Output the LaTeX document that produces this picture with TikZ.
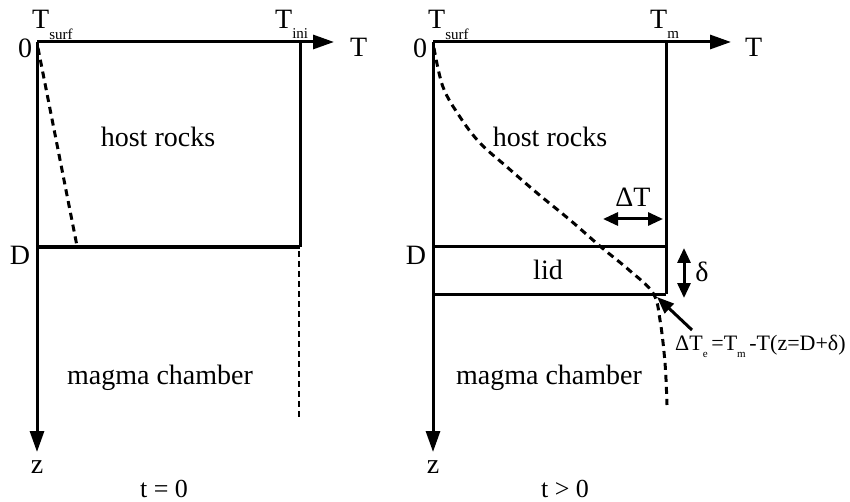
\documentclass[tikz,border=0pt]{standalone}
\usepackage{fontspec}
\setmainfont{Liberation Serif}
\usetikzlibrary{arrows.meta}
\newcommand{\lowsub}[2]{\raisebox{-#1}{\fontsize{15}{15}\selectfont #2}}
\newcommand{\tinysub}[1]{\raisebox{-7pt}{\fontsize{11}{11}\selectfont #1}}
\tikzset{
  axis/.style={line width=3pt,-{Triangle[length=21pt,width=14pt]}},
  boxline/.style={line width=3pt},
  profile/.style={line width=3pt,dash pattern=on 7pt off 5pt},
  thinprofile/.style={line width=2.5pt,dash pattern=on 6pt off 4pt},
  dbl/.style={line width=3pt,{Triangle[length=15pt,width=13pt]}-{Triangle[length=15pt,width=13pt]}},
  pointer/.style={line width=3pt,-{Triangle[length=17pt,width=13pt]}},
  lbl/.style={font=\fontsize{28}{30}\selectfont,inner sep=0pt},
  small/.style={font=\fontsize{22}{24}\selectfont,inner sep=0pt},
  caption/.style={font=\fontsize{26}{28}\selectfont,inner sep=0pt},
}
\begin{document}
\begin{tikzpicture}[x=1pt,y=-1pt]
\useasboundingbox (0,0) rectangle (850,502);
% ---------- left panel ----------
\coordinate (LO) at (37,42);
\coordinate (LTend) at (334,42);
\coordinate (LZend) at (37,452);
\coordinate (LTR) at (300,42);
\coordinate (LDL) at (37,247);
\coordinate (LDR) at (300,247);
\coordinate (LPtop) at (38,48);
\coordinate (LPbot) at (77,246);
\coordinate (LMtop) at (299,251);
\coordinate (LMbot) at (299,417);
\draw[boxline] (LTR) -- (LDR);
\draw[line width=4pt] (LDL) -- (LDR);
\draw[axis] (LO) -- (LTend);
\draw[axis] (LO) -- (LZend);
\draw[profile] (LPtop) -- (LPbot);
\draw[thinprofile] (LMtop) -- (LMbot);
\node[lbl,anchor=base west] (lTs) at (32,29) {T\lowsub{11pt}{surf}};
\node[lbl,anchor=base west] (lTi) at (275,29) {T\lowsub{10pt}{ini}};
\node[lbl,anchor=base west] (lT) at (350,57) {T};
\node[lbl] (l0) at (25,48) {0};
\node[lbl] (lD) at (20,255) {D};
\node[lbl] (lhost) at (158,137) {host rocks};
\node[lbl] (lmagma) at (160,378) {magma chamber};
\node[lbl] (lz) at (37,467) {z};
\node[caption,anchor=base] (lt) at (164,497) {t = 0};
% ---------- right panel ----------
\coordinate (RO) at (433,42);
\coordinate (RTend) at (731,42);
\coordinate (RZend) at (433,452);
\coordinate (RTR) at (666,42);
\coordinate (RDL) at (433,247);
\coordinate (RDR) at (666,247);
\coordinate (RLL) at (433,294);
\coordinate (RLR) at (666,294);
\draw[boxline] (RTR) -- (RLR);
\draw[boxline] (RDL) -- (RDR);
\draw[boxline] (RLL) -- (RLR);
\draw[axis] (RO) -- (RTend);
\draw[axis] (RO) -- (RZend);
\draw[profile] plot[smooth,tension=0.6] coordinates {(434,48) (443,87) (460,117) (480,143) (507,167) (537,193) (570,220) (601,247) (629,270) (653,293) (660,320) (665,363) (667,405)};
\node[lbl,anchor=base west] (rTs) at (428,29) {T\lowsub{11pt}{surf}};
\node[lbl,anchor=base west] (rTm) at (650,29) {T\lowsub{10pt}{m}};
\node[lbl,anchor=base west] (rT) at (745,57) {T};
\node[lbl] (r0) at (420,48) {0};
\node[lbl] (rD) at (416,255) {D};
\node[lbl] (rhost) at (550,137) {host rocks};
\node[lbl] (rlid) at (548,270) {lid};
\node[lbl] (rmagma) at (549,378) {magma chamber};
\node[lbl] (rz) at (433,467) {z};
\node[caption,anchor=base] (rt) at (565,497) {t > 0};
% Delta T arrow
\coordinate (dTl) at (603,219);
\coordinate (dTr) at (663,219);
\draw[dbl] (dTl) -- (dTr);
\node[lbl] (dT) at (633,197) {ΔT};
% delta arrow
\coordinate (dlt) at (684,248);
\coordinate (dlb) at (684,298);
\draw[dbl] (dlt) -- (dlb);
\node[lbl] (dl) at (702,272) {δ};
% pointer
\coordinate (ptip) at (657,297);
\coordinate (ptail) at (692,330);
\draw[pointer] (ptail) -- (ptip);
\node[small,anchor=base west] (eq) at (675,350) {ΔT\tinysub{e}\,=T\tinysub{m}\,-T(z=D+δ)};
\end{tikzpicture}
\end{document}
